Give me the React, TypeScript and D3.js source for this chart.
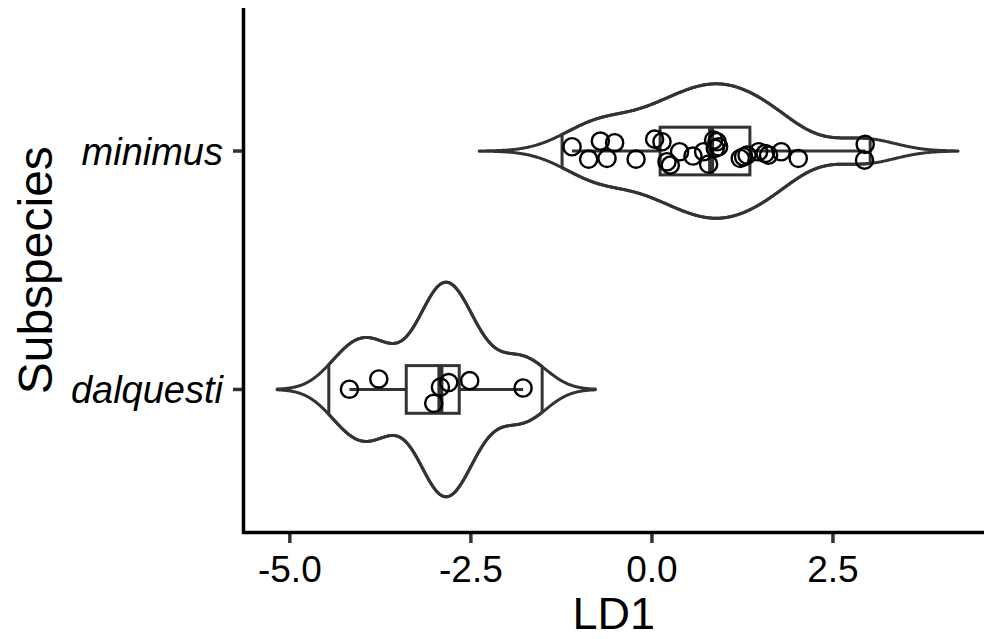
import { useEffect, useRef } from "react";
import * as d3 from "d3";

// LD1 scores, with the vertical jitter of each point
const categories = ["dalquesti", "minimus"];
const dalquestiLD1 = [-4.177, -3.772, -3.013, -2.921, -2.806, -2.516, -1.779];
const dalquestiJitter = [0.001, 0.044, -0.058, 0.01, 0.029, 0.037, 0.006];
const dalquestiTrim = [-4.462, -1.516];
const minimusLD1 = [
  -1.103, -0.874, -0.712, -0.62, -0.515, -0.219, 0.037, 0.139, 0.208, 0.254,
  0.382, 0.567, 0.714, 0.783, 0.852, 0.899, 0.921, 0.875, 1.22, 1.266, 1.313,
  1.473, 1.565, 1.611, 1.786, 2.021, 2.945, 2.936,
];
const minimusJitter = [
  0.018, -0.034, 0.042, -0.031, 0.035, -0.034, 0.05, 0.039, -0.045, -0.059,
  -0.003, -0.021, -0.003, -0.055, 0.046, 0.039, 0.018, 0.011, -0.031, -0.024,
  -0.017, -0.003, -0.01, -0.017, -0.003, -0.031, 0.028, -0.038,
];
const minimusTrim = [-1.241, 3.014];
const xTicks = [-5, -2.5, 0, 2.5];

// R's bw.nrd0
const nrd0 = (v: number[]) => {
  const s = [...v].sort(d3.ascending);
  const iqr = (d3.quantile(s, 0.75)! - d3.quantile(s, 0.25)!) / 1.34;
  const lo = Math.min(d3.deviation(s)!, iqr);
  return 0.9 * lo * Math.pow(s.length, -0.2);
};

const kde = (v: number[], bw: number, from: number, to: number, n = 512) => {
  const c = 1 / (Math.sqrt(2 * Math.PI) * bw * v.length);
  return d3.range(n).map((i) => {
    const t = from + ((to - from) * i) / (n - 1);
    const d = d3.sum(v, (x) => Math.exp(-0.5 * ((t - x) / bw) ** 2)) * c;
    return [t, d] as [number, number];
  });
};

const App = () => {
  const svgRef = useRef<SVGSVGElement>(null);

  useEffect(() => {
    const svg = d3.select(svgRef.current);
    svg.selectAll("*").remove();

    const x = d3.scaleLinear().domain([-5.64, 4.71]).range([243.5, 993]);
    const y = d3.scaleLinear().domain([0.4, 2.6]).range([532.5, 8]);
    const font = "'Liberation Sans', Arial, sans-serif";

    const groups = [
      { name: "dalquesti", pos: 1, values: dalquestiLD1, jitter: dalquestiJitter, trimR: dalquestiTrim },
      { name: "minimus", pos: 2, values: minimusLD1, jitter: minimusJitter, trimR: minimusTrim },
    ].map((g) => {
      const bw = nrd0(g.values);
      const [mn, mx] = d3.extent(g.values) as [number, number];
      return {
        ...g,
        full: kde(g.values, bw, mn - 3 * bw, mx + 3 * bw),
        trim: kde(g.values, bw, g.trimR[0], g.trimR[1]),
      };
    });
    const maxD = d3.max(groups, (g) => d3.max(g.full, (d) => d[1]))!;

    const plot = svg.append("g");

    // Violins: untrimmed and trimmed layers
    groups.forEach((g) => {
      const area = d3
        .area<[number, number]>()
        .x((d) => x(d[0]))
        .y0((d) => y(g.pos - (0.45 * d[1]) / maxD))
        .y1((d) => y(g.pos + (0.45 * d[1]) / maxD));
      [g.full, g.trim].forEach((dens) => {
        plot
          .append("path")
          .attr("d", area(dens))
          .attr("fill", "none")
          .attr("stroke", "#333333")
          .attr("stroke-width", 3)
          .attr("stroke-linejoin", "round");
      });
    });

    // Boxplots
    groups.forEach((g) => {
      const s = [...g.values].sort(d3.ascending);
      const q1 = d3.quantile(s, 0.25)!;
      const med = d3.quantile(s, 0.5)!;
      const q3 = d3.quantile(s, 0.75)!;
      const iqr = q3 - q1;
      const lo = d3.min(s.filter((v) => v >= q1 - 1.5 * iqr))!;
      const hi = d3.max(s.filter((v) => v <= q3 + 1.5 * iqr))!;
      const bx = plot.append("g").attr("stroke", "#333333").attr("stroke-width", 3);
      bx.append("line")
        .attr("x1", x(lo))
        .attr("x2", x(q1))
        .attr("y1", y(g.pos))
        .attr("y2", y(g.pos));
      bx.append("line")
        .attr("x1", x(q3))
        .attr("x2", x(hi))
        .attr("y1", y(g.pos))
        .attr("y2", y(g.pos));
      bx.append("rect")
        .attr("x", x(q1))
        .attr("y", y(g.pos + 0.1))
        .attr("width", x(q3) - x(q1))
        .attr("height", y(g.pos - 0.1) - y(g.pos + 0.1))
        .attr("fill", "white");
      bx.append("line")
        .attr("x1", x(med))
        .attr("x2", x(med))
        .attr("y1", y(g.pos + 0.1))
        .attr("y2", y(g.pos - 0.1))
        .attr("stroke-width", 6);
    });

    // Jittered points
    groups.forEach((g) => {
      plot
        .append("g")
        .selectAll("circle")
        .data(g.values)
        .enter()
        .append("circle")
        .attr("cx", (d) => x(d))
        .attr("cy", (d, i) => y(g.pos + g.jitter[i]))
        .attr("r", 8.6)
        .attr("fill", "none")
        .attr("stroke", "black")
        .attr("stroke-width", 2.4);
    });

    // Axes
    const axes = svg.append("g");
    axes
      .selectAll(".xtick")
      .data(xTicks)
      .enter()
      .append("line")
      .attr("x1", (d) => x(d))
      .attr("x2", (d) => x(d))
      .attr("y1", 532.5)
      .attr("y2", 543)
      .attr("stroke", "#333333")
      .attr("stroke-width", 3.5);
    axes
      .selectAll(".xlab")
      .data(xTicks)
      .enter()
      .append("text")
      .attr("x", (d) => x(d))
      .attr("y", 582)
      .attr("text-anchor", "middle")
      .attr("font-family", font)
      .attr("font-size", 37)
      .text((d) => d.toFixed(1));

    axes
      .selectAll(".ytick")
      .data(categories)
      .enter()
      .append("line")
      .attr("x1", 233)
      .attr("x2", 243.5)
      .attr("y1", (d, i) => y(i + 1))
      .attr("y2", (d, i) => y(i + 1))
      .attr("stroke", "#333333")
      .attr("stroke-width", 3.5);
    axes
      .selectAll(".ylab")
      .data(categories)
      .enter()
      .append("text")
      .attr("x", 223)
      .attr("y", (d, i) => y(i + 1) + 14)
      .attr("text-anchor", "end")
      .attr("font-family", font)
      .attr("font-style", "italic")
      .attr("font-size", 38)
      .text((d) => d);

    axes
      .append("path")
      .attr("d", "M243.5,8V532.5H984")
      .attr("fill", "none")
      .attr("stroke", "black")
      .attr("stroke-width", 3.5);

    axes
      .append("text")
      .attr("x", (243.5 + 984) / 2)
      .attr("y", 629)
      .attr("text-anchor", "middle")
      .attr("font-family", font)
      .attr("font-size", 45)
      .text("LD1");
    axes
      .append("text")
      .attr("transform", `translate(52,${(8 + 532.5) / 2}) rotate(-90)`)
      .attr("text-anchor", "middle")
      .attr("font-family", font)
      .attr("font-size", 48)
      .text("Subspecies");
  }, []);

  return (
    <svg
      ref={svgRef}
      width={984}
      height={639}
      style={{ position: "absolute", left: 0, top: 0, background: "white" }}
    />
  );
};

export default App;
